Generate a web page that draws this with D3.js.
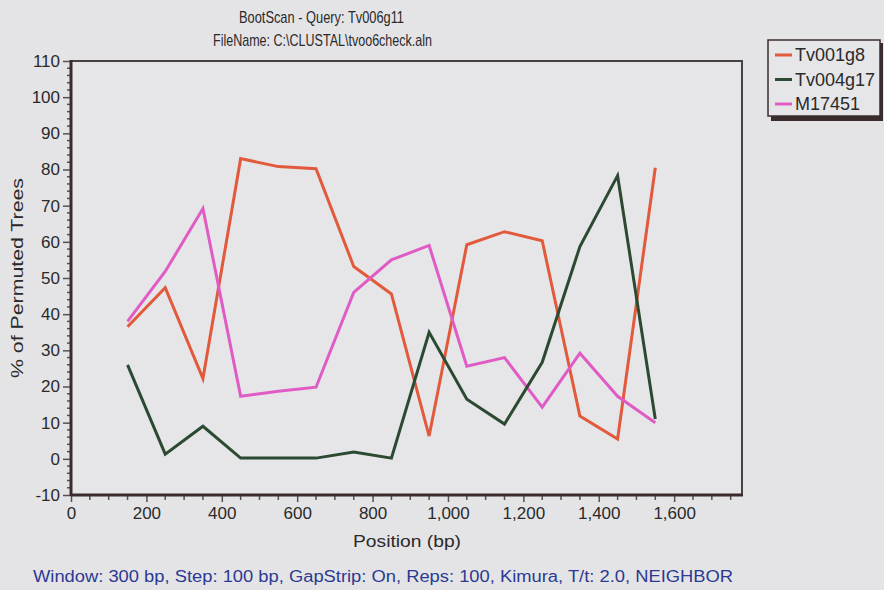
<!DOCTYPE html>
<html>
<head>
<meta charset="utf-8">
<script src="https://cdn.jsdelivr.net/npm/d3@7"></script>
<style>
  html, body { margin: 0; padding: 0; background: #e4e4e7; }
  svg { display: block; font-family: "Liberation Sans", Arial, sans-serif; }
</style>
</head>
<body>
<svg id="chart" width="884" height="590"></svg>
<script>
// Window midpoints along the alignment (bp)
const positions = [150, 250, 350, 450, 550, 650, 750, 850, 950, 1050, 1150, 1250, 1350, 1450, 1550];

// Bootstrap support (% of permuted trees) for each reference sequence
const tv001g8  = [36.5, 47.3, 22.2, 83.0, 80.8, 80.2, 53.2, 45.6, 6.3, 59.2, 62.8, 60.3, 11.8, 5.5, 80.5];
const tv004g17 = [26.0, 1.3, 9.0, 0.2, 0.2, 0.2, 1.9, 0.2, 35.0, 16.5, 9.6, 26.7, 58.7, 78.3, 11.0];
const m17451   = [38.0, 51.8, 69.2, 17.3, 18.7, 19.8, 46.0, 55.0, 59.0, 25.6, 28.0, 14.3, 29.2, 17.3, 10.0];

const seriesNames  = ["Tv001g8", "Tv004g17", "M17451"];
const seriesColors = ["#e25a3c", "#2c4a31", "#e05cc4"];

const xTicks = [0, 200, 400, 600, 800, 1000, 1200, 1400, 1600];
const yTicks = [-10, 0, 10, 20, 30, 40, 50, 60, 70, 80, 90, 100, 110];

const titleLines = ["BootScan - Query: Tv006g11", "FileName: C:\\CLUSTAL\\tvoo6check.aln"];
const xLabel = "Position (bp)";
const yLabel = "% of Permuted Trees";
const footer = "Window: 300 bp, Step: 100 bp, GapStrip: On, Reps: 100, Kimura, T/t: 2.0, NEIGHBOR";

const svg = d3.select("#chart");
const plot = { left: 71, right: 742, top: 61, bottom: 495 };

const x = d3.scaleLinear().domain([0, 1780]).range([plot.left, plot.right]);
const y = d3.scaleLinear().domain([-10, 110]).range([plot.bottom, plot.top]);

// Plot frame (top and right edges are thinner than the axes)
svg.append("rect")
  .attr("x", plot.left).attr("y", plot.top)
  .attr("width", plot.right - plot.left).attr("height", plot.bottom - plot.top)
  .attr("fill", "#e6e6e9").attr("stroke", "#4a4242").attr("stroke-width", 2);

// Minor ticks
const minorX = d3.range(0, 1780, 50).filter(v => v % 200 !== 0);
svg.append("g").selectAll("line").data(minorX).join("line")
  .attr("x1", d => x(d)).attr("x2", d => x(d))
  .attr("y1", plot.bottom).attr("y2", plot.bottom + 5)
  .attr("stroke", "#5a5050").attr("stroke-width", 1.5);
const minorY = d3.range(-10, 111, 2).filter(v => v % 10 !== 0);
svg.append("g").selectAll("line").data(minorY).join("line")
  .attr("x1", plot.left - 4).attr("x2", plot.left)
  .attr("y1", d => y(d)).attr("y2", d => y(d))
  .attr("stroke", "#5a5050").attr("stroke-width", 1.5);

// Axes (plain hyphen for negatives)
const xAxis = d3.axisBottom(x).tickValues(xTicks).tickSize(7).tickPadding(5)
  .tickFormat(d3.format(","));
const yAxis = d3.axisLeft(y).tickValues(yTicks).tickSize(8).tickPadding(3)
  .tickFormat(d => String(d));

const gx = svg.append("g").attr("transform", `translate(0,${plot.bottom})`).call(xAxis);
const gy = svg.append("g").attr("transform", `translate(${plot.left},0)`).call(yAxis);
[gx, gy].forEach(g => {
  g.select(".domain").remove();
  g.selectAll(".tick line").attr("stroke", "#5a5050").attr("stroke-width", 1.5);
  g.selectAll(".tick text").attr("fill", "#2a2a2a")
    .style("font-size", "17px").style("font-family", "'Liberation Sans', Arial, sans-serif");
});

// Thick left and bottom axis lines
svg.append("line").attr("x1", plot.left).attr("x2", plot.right + 1)
  .attr("y1", plot.bottom).attr("y2", plot.bottom)
  .attr("stroke", "#3a2c2c").attr("stroke-width", 3);
svg.append("line").attr("x1", plot.left).attr("x2", plot.left)
  .attr("y1", plot.top - 1).attr("y2", plot.bottom + 1)
  .attr("stroke", "#3a2c2c").attr("stroke-width", 3);

// Series lines
const line = d3.line().x(d => x(d[0])).y(d => y(d[1]));
const allSeries = [tv001g8, tv004g17, m17451];
const drawOrder = [0, 2, 1];
drawOrder.forEach(i => {
  svg.append("path")
    .datum(positions.map((p, k) => [p, allSeries[i][k]]))
    .attr("d", line)
    .attr("fill", "none")
    .attr("stroke", seriesColors[i])
    .attr("stroke-width", 3)
    .attr("stroke-linejoin", "miter");
});

// Titles
const titleG = svg.append("g").attr("fill", "#2a2a2a").style("font-size", "17px");
titleG.append("text").attr("x", 321.5).attr("y", 23).attr("text-anchor", "middle")
  .attr("textLength", 165).attr("lengthAdjust", "spacingAndGlyphs").text(titleLines[0]);
titleG.append("text").attr("x", 322.5).attr("y", 46).attr("text-anchor", "middle")
  .attr("textLength", 219).attr("lengthAdjust", "spacingAndGlyphs").text(titleLines[1]);

// Axis titles
svg.append("text").attr("x", 407).attr("y", 547).attr("text-anchor", "middle")
  .attr("fill", "#2a2a2a").style("font-size", "16px")
  .attr("textLength", 108).attr("lengthAdjust", "spacingAndGlyphs").text(xLabel);
svg.append("text").attr("transform", "translate(23,278) rotate(-90)")
  .attr("text-anchor", "middle").attr("fill", "#2a2a2a").style("font-size", "16px")
  .attr("textLength", 200).attr("lengthAdjust", "spacingAndGlyphs").text(yLabel);

// Run parameters
svg.append("text").attr("x", 383).attr("y", 582).attr("text-anchor", "middle")
  .attr("fill", "#2b3a92").style("font-size", "16px")
  .attr("textLength", 700).attr("lengthAdjust", "spacingAndGlyphs").text(footer);

// Legend with drop shadow
const lg = svg.append("g");
lg.append("rect").attr("x", 771).attr("y", 43).attr("width", 112).attr("height", 78)
  .attr("fill", "#3a2c2c");
lg.append("rect").attr("x", 768).attr("y", 40).attr("width", 112).attr("height", 76)
  .attr("fill", "#e6e6e9").attr("stroke", "#3a2c2c").attr("stroke-width", 1.5);
seriesNames.forEach((name, i) => {
  const cy = 55 + i * 24.5;
  lg.append("line").attr("x1", 775).attr("x2", 792).attr("y1", cy).attr("y2", cy)
    .attr("stroke", seriesColors[i]).attr("stroke-width", 3);
  lg.append("text").attr("x", 795).attr("y", cy + 6).attr("fill", "#2a2a2a")
    .style("font-size", "18px").text(name);
});
</script>
</body>
</html>
